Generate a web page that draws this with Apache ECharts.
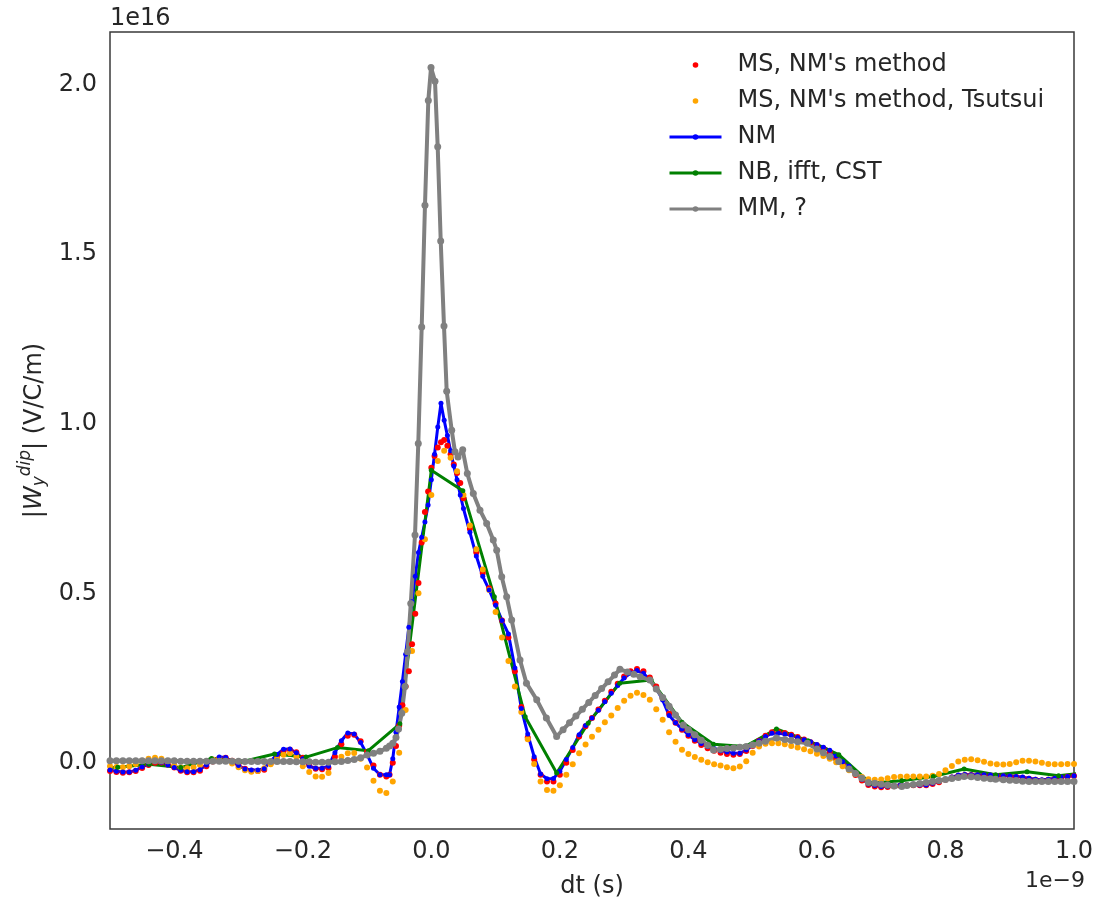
<!DOCTYPE html>
<html>
<head>
<meta charset="utf-8">
<script src="https://cdn.jsdelivr.net/npm/echarts@6/dist/echarts.min.js"></script>
<style>
html,body{margin:0;padding:0;background:#fff;}
#chart{width:1097px;height:898px;}
</style>
</head>
<body>
<div id="chart"></div>
<script>
// dt in units of 1e-9 s, values in units of 1e16 V/C/m
const seriesNames = ["MS, NM's method", "MS, NM's method, Tsutsui", "NM", "NB, ifft, CST", "MM, ?"];
const xTicks = [-0.4, -0.2, 0.0, 0.2, 0.4, 0.6, 0.8, 1.0];
const yTicks = [0.0, 0.5, 1.0, 1.5, 2.0];

const msNM = [
[-0.50,-0.024],[-0.49,-0.027],[-0.48,-0.029],[-0.47,-0.028],[-0.46,-0.024],[-0.45,-0.015],[-0.44,-0.006],[-0.43,0.000],[-0.42,0.001],[-0.41,-0.005],
[-0.40,-0.014],[-0.39,-0.023],[-0.38,-0.028],[-0.37,-0.028],[-0.36,-0.023],[-0.35,-0.010],[-0.34,0.004],[-0.33,0.013],[-0.32,0.015],[-0.31,0.006],
[-0.30,-0.006],[-0.29,-0.017],[-0.28,-0.023],[-0.27,-0.024],[-0.26,-0.020],[-0.25,-0.002],[-0.24,0.018],[-0.23,0.034],[-0.22,0.039],[-0.21,0.031],
[-0.20,0.015],[-0.19,-0.006],[-0.18,-0.017],[-0.17,-0.019],[-0.16,-0.015],[-0.15,0.018],[-0.14,0.055],[-0.13,0.080],[-0.12,0.083],[-0.11,0.064],
[-0.10,0.032],[-0.09,-0.008],[-0.08,-0.035],[-0.07,-0.040],[-0.065,-0.035],[-0.06,0.000],[-0.055,0.050],[-0.05,0.110],[-0.045,0.170],[-0.04,0.225],
[-0.035,0.270],[-0.03,0.350],[-0.025,0.440],[-0.02,0.530],[-0.015,0.650],[-0.01,0.740],[-0.005,0.800],[0.0,0.870],[0.005,0.905],[0.01,0.930],
[0.015,0.945],[0.02,0.952],[0.025,0.935],[0.03,0.910],[0.035,0.880],[0.04,0.855],[0.045,0.825],[0.05,0.780],[0.06,0.690],[0.07,0.620],
[0.08,0.560],[0.09,0.515],[0.10,0.470],[0.11,0.420],[0.12,0.370],[0.13,0.270],[0.14,0.165],[0.15,0.075],[0.16,0.010],[0.17,-0.035],
[0.18,-0.055],[0.19,-0.055],[0.20,-0.035],[0.21,0.000],[0.22,0.038],[0.23,0.078],[0.24,0.108],[0.25,0.132],[0.26,0.157],[0.27,0.183],
[0.28,0.210],[0.29,0.233],[0.30,0.255],[0.31,0.270],[0.32,0.277],[0.33,0.270],[0.34,0.252],[0.35,0.225],[0.36,0.190],[0.37,0.145],
[0.38,0.118],[0.39,0.098],[0.40,0.080],[0.41,0.065],[0.42,0.053],[0.43,0.043],[0.44,0.036],[0.45,0.030],[0.46,0.026],[0.47,0.024],
[0.48,0.026],[0.49,0.035],[0.50,0.050],[0.51,0.065],[0.52,0.080],[0.53,0.090],[0.54,0.091],[0.55,0.088],[0.56,0.083],[0.57,0.076],
[0.58,0.069],[0.59,0.061],[0.60,0.052],[0.61,0.043],[0.62,0.032],[0.63,0.015],[0.64,-0.003],[0.65,-0.018],[0.66,-0.036],[0.67,-0.052],
[0.68,-0.065],[0.69,-0.070],[0.70,-0.072],[0.71,-0.071],[0.72,-0.069],[0.73,-0.067],[0.74,-0.066],[0.75,-0.066],[0.76,-0.066],[0.77,-0.066],
[0.78,-0.062],[0.79,-0.057],[0.80,-0.050],[0.81,-0.043],[0.82,-0.038],[0.83,-0.036],[0.84,-0.036],[0.85,-0.037],[0.86,-0.037],[0.87,-0.038],
[0.88,-0.039],[0.89,-0.040],[0.90,-0.041],[0.91,-0.042],[0.92,-0.044],[0.93,-0.047],[0.94,-0.050],[0.95,-0.052],[0.96,-0.050],[0.97,-0.047],
[0.98,-0.044],[0.99,-0.041],[1.00,-0.039]
];

const msTsutsui = [
[-0.50,-0.010],[-0.49,-0.012],[-0.48,-0.013],[-0.47,-0.010],[-0.46,-0.003],[-0.45,0.006],[-0.44,0.012],[-0.43,0.015],[-0.42,0.012],[-0.41,0.003],
[-0.40,-0.006],[-0.39,-0.014],[-0.38,-0.016],[-0.37,-0.013],[-0.36,-0.006],[-0.35,0.003],[-0.34,0.010],[-0.33,0.012],[-0.32,0.008],[-0.31,-0.002],
[-0.30,-0.013],[-0.29,-0.022],[-0.28,-0.026],[-0.27,-0.024],[-0.26,-0.016],[-0.25,-0.004],[-0.24,0.012],[-0.23,0.024],[-0.22,0.028],[-0.21,0.018],
[-0.20,-0.010],[-0.19,-0.027],[-0.18,-0.040],[-0.17,-0.041],[-0.16,-0.030],[-0.15,0.003],[-0.14,0.018],[-0.13,0.028],[-0.12,0.029],[-0.11,0.012],
[-0.10,-0.014],[-0.09,-0.053],[-0.08,-0.082],[-0.07,-0.089],[-0.06,-0.055],[-0.05,0.030],[-0.04,0.156],[-0.03,0.330],[-0.02,0.500],[-0.01,0.659],
[0.00,0.790],[0.01,0.890],[0.02,0.920],[0.03,0.900],[0.04,0.860],[0.05,0.790],[0.06,0.700],[0.07,0.630],[0.08,0.570],[0.09,0.510],
[0.10,0.445],[0.11,0.370],[0.12,0.300],[0.13,0.225],[0.14,0.150],[0.15,0.070],[0.16,-0.003],[0.17,-0.055],[0.18,-0.080],[0.19,-0.082],
[0.20,-0.066],[0.21,-0.035],[0.22,-0.004],[0.23,0.028],[0.24,0.054],[0.25,0.077],[0.26,0.098],[0.27,0.120],[0.28,0.140],[0.29,0.162],
[0.30,0.183],[0.31,0.198],[0.32,0.207],[0.33,0.200],[0.34,0.186],[0.35,0.158],[0.36,0.127],[0.37,0.090],[0.38,0.062],[0.39,0.039],
[0.40,0.026],[0.41,0.017],[0.42,0.009],[0.43,0.002],[0.44,-0.004],[0.45,-0.008],[0.46,-0.013],[0.47,-0.016],[0.48,-0.011],[0.49,0.005],
[0.50,0.030],[0.51,0.048],[0.52,0.056],[0.53,0.058],[0.54,0.058],[0.55,0.055],[0.56,0.050],[0.57,0.045],[0.58,0.040],[0.59,0.034],
[0.60,0.027],[0.61,0.020],[0.62,0.012],[0.63,0.002],[0.64,-0.010],[0.65,-0.022],[0.66,-0.033],[0.67,-0.042],[0.68,-0.048],[0.69,-0.050],
[0.70,-0.049],[0.71,-0.045],[0.72,-0.042],[0.73,-0.041],[0.74,-0.040],[0.75,-0.040],[0.76,-0.040],[0.77,-0.040],[0.78,-0.038],[0.79,-0.033],
[0.80,-0.022],[0.81,-0.009],[0.82,0.004],[0.83,0.009],[0.84,0.011],[0.85,0.008],[0.86,0.003],[0.87,-0.002],[0.88,-0.004],[0.89,-0.005],
[0.90,-0.003],[0.91,0.002],[0.92,0.006],[0.93,0.006],[0.94,0.004],[0.95,0.000],[0.96,-0.003],[0.97,-0.004],[0.98,-0.004],[0.99,-0.003],
[1.00,-0.003]
];

const nm = [
[-0.50,-0.021],[-0.49,-0.025],[-0.48,-0.027],[-0.47,-0.027],[-0.46,-0.022],[-0.45,-0.012],[-0.44,-0.004],[-0.43,0.003],[-0.42,0.002],[-0.41,-0.006],
[-0.40,-0.014],[-0.39,-0.022],[-0.38,-0.026],[-0.37,-0.026],[-0.36,-0.020],[-0.35,-0.006],[-0.34,0.008],[-0.33,0.017],[-0.32,0.016],[-0.31,0.004],
[-0.30,-0.008],[-0.29,-0.018],[-0.28,-0.021],[-0.27,-0.021],[-0.26,-0.017],[-0.25,0.005],[-0.24,0.025],[-0.23,0.040],[-0.22,0.041],[-0.21,0.030],
[-0.20,0.012],[-0.19,-0.010],[-0.18,-0.016],[-0.17,-0.016],[-0.16,-0.010],[-0.15,0.030],[-0.14,0.065],[-0.13,0.088],[-0.12,0.085],[-0.11,0.060],
[-0.10,0.025],[-0.09,-0.016],[-0.08,-0.035],[-0.07,-0.035],[-0.065,-0.035],[-0.06,0.012],[-0.055,0.090],[-0.05,0.165],[-0.045,0.240],[-0.04,0.320],
[-0.035,0.400],[-0.03,0.475],[-0.025,0.550],[-0.02,0.620],[-0.015,0.665],[-0.01,0.710],[-0.005,0.760],[0.0,0.835],[0.005,0.910],[0.01,0.990],
[0.015,1.060],[0.02,1.010],[0.025,0.965],[0.03,0.920],[0.035,0.875],[0.04,0.835],[0.045,0.790],[0.05,0.750],[0.06,0.680],[0.07,0.610],
[0.08,0.550],[0.09,0.510],[0.10,0.465],[0.11,0.420],[0.12,0.380],[0.13,0.280],[0.14,0.160],[0.15,0.085],[0.16,0.018],[0.17,-0.033],
[0.18,-0.047],[0.19,-0.046],[0.20,-0.025],[0.21,0.010],[0.22,0.045],[0.23,0.083],[0.24,0.110],[0.25,0.132],[0.26,0.155],[0.27,0.180],
[0.28,0.205],[0.29,0.228],[0.30,0.250],[0.31,0.265],[0.32,0.272],[0.33,0.264],[0.34,0.245],[0.35,0.220],[0.36,0.185],[0.37,0.140],
[0.38,0.118],[0.39,0.100],[0.40,0.083],[0.41,0.068],[0.42,0.057],[0.43,0.048],[0.44,0.042],[0.45,0.036],[0.46,0.032],[0.47,0.028],
[0.48,0.028],[0.49,0.038],[0.50,0.052],[0.51,0.065],[0.52,0.078],[0.53,0.087],[0.54,0.087],[0.55,0.085],[0.56,0.081],[0.57,0.075],
[0.58,0.068],[0.59,0.062],[0.60,0.054],[0.61,0.046],[0.62,0.037],[0.63,0.020],[0.64,0.003],[0.65,-0.010],[0.66,-0.030],[0.67,-0.048],
[0.68,-0.062],[0.69,-0.067],[0.70,-0.070],[0.71,-0.069],[0.72,-0.067],[0.73,-0.065],[0.74,-0.065],[0.75,-0.065],[0.76,-0.065],[0.77,-0.065],
[0.78,-0.060],[0.79,-0.055],[0.80,-0.048],[0.81,-0.042],[0.82,-0.036],[0.83,-0.034],[0.84,-0.035],[0.85,-0.035],[0.86,-0.035],[0.87,-0.036],
[0.88,-0.037],[0.89,-0.038],[0.90,-0.039],[0.91,-0.040],[0.92,-0.042],[0.93,-0.045],[0.94,-0.048],[0.95,-0.050],[0.96,-0.048],[0.97,-0.045],
[0.98,-0.042],[0.99,-0.040],[1.00,-0.038]
];

const nbCST = [
[-0.537,-0.016],[-0.488,-0.013],[-0.439,-0.004],[-0.390,-0.014],[-0.342,0.013],[-0.293,0.004],[-0.244,0.026],[-0.195,0.017],[-0.146,0.045],[-0.098,0.036],
[-0.049,0.115],[0.000,0.863],[0.049,0.802],[0.098,0.490],[0.146,0.136],[0.195,-0.030],[0.244,0.117],[0.293,0.235],[0.342,0.244],[0.390,0.120],
[0.439,0.055],[0.488,0.048],[0.537,0.100],[0.586,0.065],[0.634,0.024],[0.683,-0.060],[0.732,-0.053],[0.781,-0.040],[0.829,-0.018],[0.878,-0.035],
[0.927,-0.026],[0.976,-0.038],[1.025,-0.028]
];

const mm = [
[-0.50,0.006],[-0.49,0.006],[-0.48,0.006],[-0.47,0.006],[-0.46,0.006],[-0.45,0.006],[-0.44,0.006],[-0.43,0.006],[-0.42,0.006],[-0.41,0.006],
[-0.40,0.006],[-0.39,0.005],[-0.38,0.005],[-0.37,0.005],[-0.36,0.005],[-0.35,0.005],[-0.34,0.005],[-0.33,0.005],[-0.32,0.005],[-0.31,0.005],
[-0.30,0.005],[-0.29,0.004],[-0.28,0.004],[-0.27,0.004],[-0.26,0.004],[-0.25,0.004],[-0.24,0.004],[-0.23,0.004],[-0.22,0.004],[-0.21,0.003],
[-0.20,0.003],[-0.19,0.003],[-0.18,0.002],[-0.17,0.002],[-0.16,0.002],[-0.15,0.003],[-0.14,0.004],[-0.13,0.007],[-0.12,0.010],[-0.11,0.015],
[-0.10,0.023],[-0.09,0.028],[-0.08,0.034],[-0.07,0.043],[-0.065,0.050],[-0.06,0.058],[-0.055,0.075],[-0.051,0.100],[-0.046,0.146],[-0.041,0.225],
[-0.037,0.328],[-0.032,0.470],[-0.0254,0.672],[-0.0203,0.942],[-0.015,1.285],[-0.0099,1.644],[-0.0047,1.953],[-0.0005,2.050],[0.0057,2.010],[0.0099,1.817],
[0.0146,1.539],[0.0197,1.288],[0.0239,1.096],[0.0317,0.981],[0.0368,0.917],[0.0415,0.902],[0.0488,0.923],[0.056,0.853],[0.0653,0.794],[0.0757,0.745],
[0.0861,0.706],[0.0964,0.657],[0.1017,0.627],[0.1095,0.549],[0.1172,0.490],[0.125,0.421],[0.138,0.303],[0.148,0.235],[0.164,0.186],[0.179,0.132],
[0.195,0.078],[0.205,0.098],[0.215,0.118],[0.225,0.138],[0.235,0.158],[0.245,0.178],[0.255,0.199],[0.265,0.219],[0.275,0.239],[0.285,0.259],
[0.2935,0.276],[0.305,0.268],[0.315,0.261],[0.325,0.254],[0.34,0.244],[0.35,0.218],[0.36,0.193],[0.37,0.167],[0.38,0.141],[0.392,0.112],
[0.40,0.098],[0.41,0.083],[0.42,0.067],[0.43,0.052],[0.439,0.038],[0.45,0.040],[0.46,0.042],[0.47,0.044],[0.48,0.046],[0.49,0.048],
[0.50,0.053],[0.51,0.058],[0.52,0.064],[0.537,0.073],[0.55,0.069],[0.56,0.066],[0.57,0.062],[0.585,0.058],[0.60,0.041],[0.61,0.030],
[0.62,0.019],[0.634,0.004],[0.65,-0.018],[0.66,-0.031],[0.67,-0.045],[0.68,-0.058],[0.69,-0.060],[0.70,-0.063],[0.71,-0.065],[0.72,-0.068],
[0.732,-0.070],[0.74,-0.067],[0.75,-0.064],[0.76,-0.061],[0.77,-0.058],[0.78,-0.055],[0.79,-0.052],[0.80,-0.049],[0.81,-0.046],[0.82,-0.043],
[0.829,-0.040],[0.84,-0.041],[0.85,-0.043],[0.86,-0.045],[0.87,-0.047],[0.878,-0.048],[0.89,-0.050],[0.90,-0.051],[0.91,-0.052],[0.92,-0.054],
[0.93,-0.055],[0.94,-0.055],[0.95,-0.055],[0.96,-0.055],[0.97,-0.055],[0.98,-0.055],[0.99,-0.055],[1.00,-0.055]
];

const FONT = "'DejaVu Sans', 'Liberation Sans', sans-serif";
const TXT = '#262626';
const FS = 24;

function isTick(v, ticks) {
  return ticks.some(t => Math.abs(t - v) < 1e-6);
}
function fmt(v) {
  return (v < -1e-9 ? '\u2212' : '') + Math.abs(v).toFixed(1);
}

const chart = echarts.init(document.getElementById('chart'), null, {renderer: 'canvas'});

const colors = ['#ff0000', '#ffa500', '#0000ff', '#008000', '#808080'];
const datas = [msNM, msTsutsui, nm, nbCST, mm];
const lineWidths = [0, 0, 3, 3, 4];
const symSizes = [6, 6, 5, 5, 7];

const series = datas.map((d, i) => ({
  name: seriesNames[i],
  type: 'line',
  data: d,
  symbol: 'circle',
  symbolSize: symSizes[i],
  showSymbol: true,
  showAllSymbol: true,
  clip: true,
  silent: true,
  animation: false,
  itemStyle: {color: colors[i], borderWidth: 0},
  lineStyle: i < 2 ? {width: 0, opacity: 0, color: colors[i]} : {width: lineWidths[i], color: colors[i]},
  emphasis: {disabled: true}
}));

chart.setOption({
  animation: false,
  backgroundColor: '#ffffff',
  grid: {
    left: 110, right: 23, top: 32, bottom: 69,
    containLabel: false, outerBoundsMode: 'none',
    show: true, borderColor: '#3a3a3a', borderWidth: 1.5, backgroundColor: 'transparent'
  },
  xAxis: {
    type: 'value', min: -0.5, max: 1.0, splitNumber: 7,
    axisLine: {show: false}, axisTick: {show: false}, splitLine: {show: false},
    axisLabel: {
      color: TXT, fontSize: FS, fontFamily: FONT, margin: 11,
      formatter: v => isTick(v, xTicks) ? fmt(v) : ''
    },
    name: 'dt (s)', nameLocation: 'middle', nameGap: 46,
    nameTextStyle: {color: TXT, fontSize: FS, fontFamily: FONT}
  },
  yAxis: {
    type: 'value', min: -0.195, max: 2.155, splitNumber: 5,
    axisLine: {show: false}, axisTick: {show: false}, splitLine: {show: false},
    axisLabel: {
      color: TXT, fontSize: FS, fontFamily: FONT, margin: 13, padding: [5, 0, 0, 0],
      formatter: v => isTick(v, yTicks) ? fmt(v) : ''
    },
    name: '{a||}{w|W}{sub|y}{sup|dip}{a|| (V/C/m)}', nameLocation: 'middle', nameGap: 52, nameRotate: 90,
    nameTextStyle: {
      color: TXT, fontSize: FS, fontFamily: FONT,
      rich: {
        a: {color: TXT, fontSize: FS, fontFamily: FONT},
        w: {color: TXT, fontSize: FS, fontFamily: FONT, fontStyle: 'italic'},
        sub: {color: TXT, fontSize: 17, fontFamily: FONT, fontStyle: 'italic', padding: [10, 0, 0, 0]},
        sup: {color: TXT, fontSize: 17, fontFamily: FONT, fontStyle: 'italic', padding: [0, 0, 18, 0]}
      }
    }
  },
  legend: {
    orient: 'vertical', left: 668, top: 52, padding: 0,
    itemWidth: 52, itemHeight: 7, itemGap: 10,
    selectedMode: false,
    data: seriesNames,
    lineStyle: {width: 3},
    textStyle: {color: TXT, fontSize: FS, fontFamily: FONT, lineHeight: 26, padding: [0, 0, 0, 11]}
  },
  graphic: [
    {type: 'text', left: 110, top: 7, style: {text: '1e16', fill: TXT, font: FS + 'px ' + FONT}},
    {type: 'text', right: 12, top: 870, style: {text: '1e\u22129', fill: TXT, font: '22px ' + FONT}}
  ],
  series: series
});
</script>
</body>
</html>
